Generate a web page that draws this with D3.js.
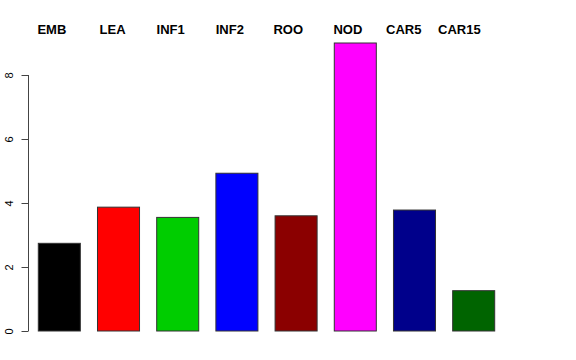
<!DOCTYPE html>
<html>
<head>
  <title>Stage bars</title>
  <script src="https://d3js.org/d3.v7.min.js"></script>
  <style>
    body { margin: 0; background: #fff; }
  </style>
</head>
<body>
<script type="text/javascript">

// ****** DATA ******

  var stages = ["EMB", "LEA", "INF1", "INF2", "ROO", "NOD", "CAR5", "CAR15"];
  var values = [2.74, 3.87, 3.55, 4.93, 3.60, 9.0, 3.78, 1.26];
  var barColors = ["#000000", "#ff0000", "#00cd00", "#0000ff", "#8b0000", "#ff00ff", "#00008b", "#006400"];
  var yTicks = [0, 2, 4, 6, 8];

  var width = 576,
      height = 360;


// ****** SCALES ******

  var x = d3.scaleBand()
    .domain(stages)
    .range([38.3, 494.7])
    .paddingInner(0.29)
    .paddingOuter(0);

  var y = d3.scaleLinear()
    .domain([0, 9])
    .range([331, 43]);


// ****** DRAW ******

  var svg = d3.select("body")
    .append("svg")
    .attr("width", width)
    .attr("height", height)
    .style("font-family", "Liberation Sans, Arial, sans-serif");

  // bars
  svg.selectAll("rect.bar")
    .data(stages)
    .enter()
    .append("rect")
    .attr("class", "bar")
    .attr("x", function (d) { return x(d); })
    .attr("y", function (d, i) { return y(values[i]); })
    .attr("width", x.bandwidth())
    .attr("height", function (d, i) { return y(0) - y(values[i]); })
    .style("fill", function (d, i) { return barColors[i]; })
    .style("stroke", "#333")
    .style("stroke-width", 1);

  // stage names across the top, right edge lined up a bit inside each bar
  svg.selectAll("text.stage")
    .data(stages)
    .enter()
    .append("text")
    .attr("class", "stage")
    .attr("x", function (d) { return x(d) + x.bandwidth() - 14; })
    .attr("y", 34)
    .attr("text-anchor", "end")
    .style("font-weight", "bold")
    .style("font-size", "13px")
    .text(function (d) { return d; });

  // y axis, R style: line only from first to last tick, rotated labels
  var yAxis = d3.axisLeft(y)
    .tickValues(yTicks)
    .tickSize(7)
    .tickSizeOuter(0);

  var gy = svg.append("g")
    .attr("transform", "translate(28.5,0)")
    .call(yAxis);

  gy.select(".domain")
    .attr("d", "M0," + y(yTicks[0]) + "V" + y(yTicks[yTicks.length - 1]))
    .style("stroke", "#444");

  gy.selectAll(".tick line").style("stroke", "#444");

  // each tick group is already moved to its y, so rotate round its own origin
  gy.selectAll(".tick text")
    .style("font-size", "11px")
    .style("font-family", "Liberation Sans, Arial, sans-serif")
    .attr("fill", "#000")
    .attr("text-anchor", "middle")
    .attr("dy", null)
    .attr("x", 0)
    .attr("y", -16)
    .attr("transform", "rotate(-90)");

</script>
</body>
</html>
